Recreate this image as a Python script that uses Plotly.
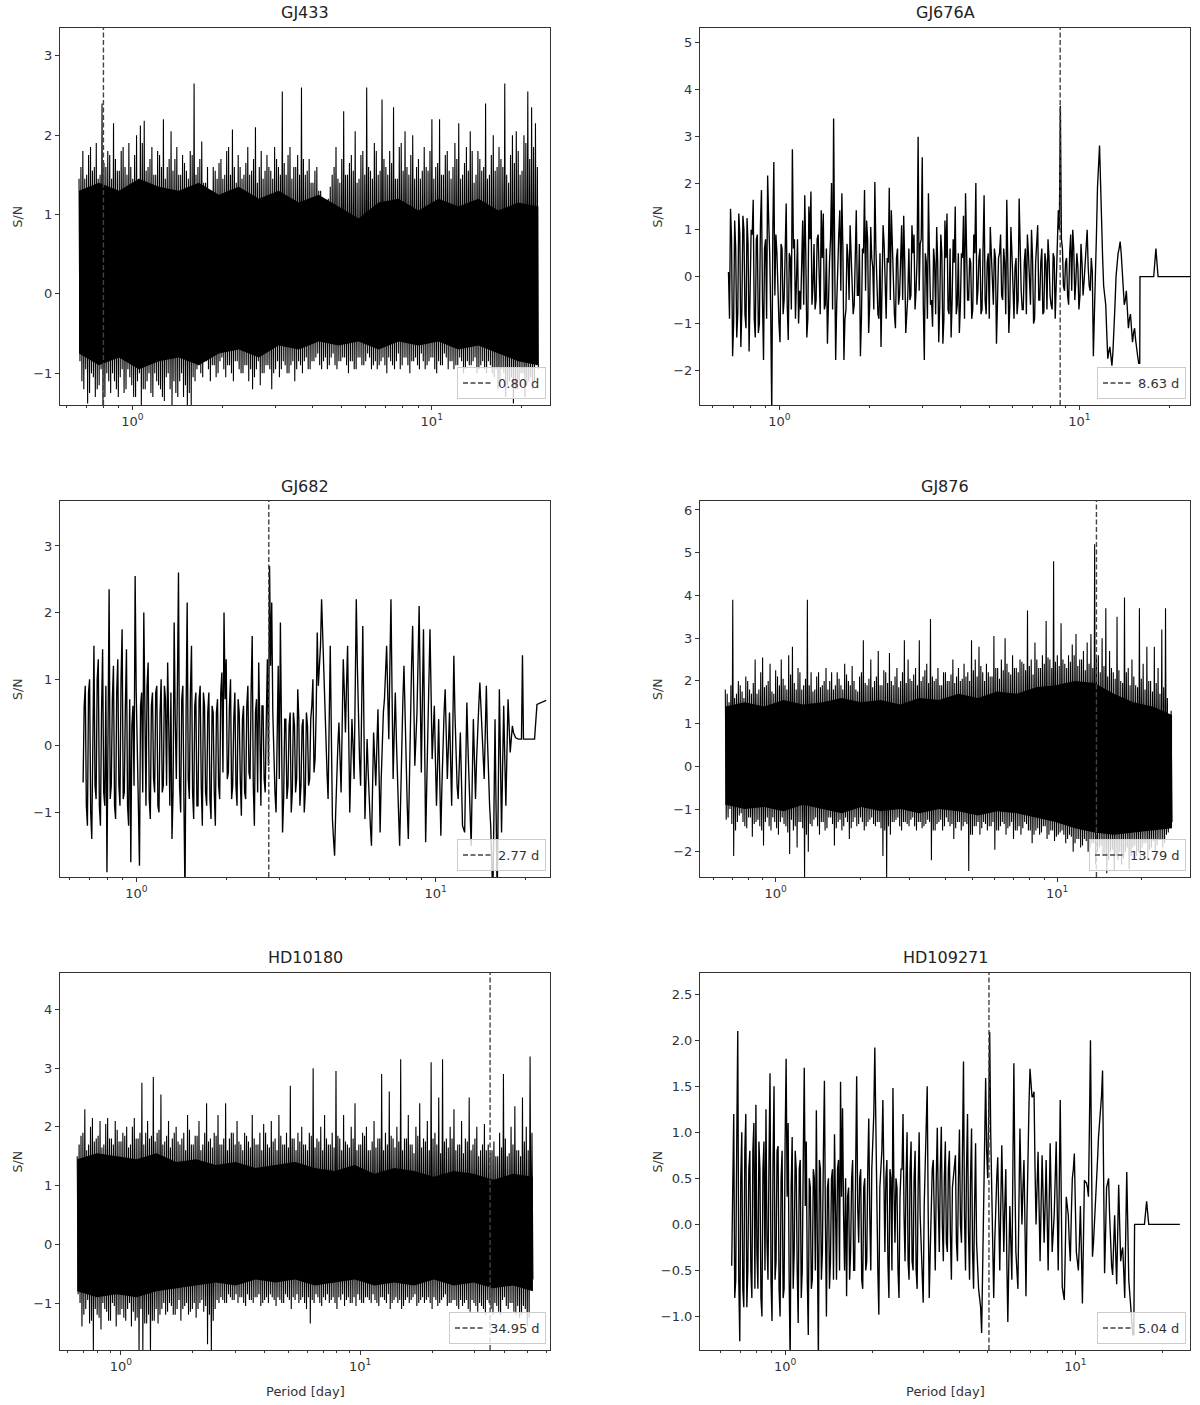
import numpy as np
import plotly.graph_objects as go

W, H = 1200, 1405
FONT = "DejaVu Sans"
INK = "#333333"

# ======================= DATA =======================
# ---- GJ433 : dense periodogram -> tall peaks / deep troughs, fringe peaks / troughs, solid band
gj433_span = [0.663, 22.7]
gj433_best = 0.80
gj433_peaks = [
    1.45, 1.8, 1.5, 1.85, 1.6, 1.45, 2.4, 1.6, 1.75, 2.15,
    1.55, 1.8, 1.6, 1.9, 1.45, 2.0, 2.12, 2.18, 1.6, 1.85,
    1.5, 1.75, 2.2, 1.6, 2.05, 1.7, 1.5, 1.75, 1.55, 1.8,
    2.65, 1.6, 1.92, 1.4, 1.15, 1.6, 1.45, 1.7, 1.5, 1.85,
    2.07, 1.4, 1.6, 1.5, 1.85, 1.55, 2.1, 1.6, 1.45, 1.75,
    1.55, 1.85, 1.6, 2.55, 1.5, 1.85, 1.6, 1.75, 2.6, 1.5,
    1.7, 1.4, 1.6, 1.3, 0.95, 1.2, 1.5, 1.85, 1.4, 2.3,
    1.5, 1.75, 2.05, 1.45, 1.8, 2.6, 1.55, 1.9, 1.5, 2.45,
    1.6, 1.8, 2.35, 1.45, 1.9, 2.05, 1.5, 2.0, 1.6, 1.45,
    1.85, 1.55, 2.2, 1.6, 2.2, 1.5, 1.8, 1.45, 1.9, 2.15,
    1.5, 1.85, 2.05, 1.4, 1.8, 1.55, 2.4, 1.5, 2.0, 1.6,
    1.7, 2.65, 1.4, 2.0, 2.05, 1.5, 2.0, 2.55, 2.35, 2.15]
gj433_troughs = [
    -0.85, -1.2, -1.38, -1.0, -1.3, -1.15, -1.45, -1.0, -1.25, -1.1,
    -1.3, -0.95, -1.2, -1.05, -1.3, -1.1, -1.4, -1.2, -1.0, -1.3,
    -1.1, -1.2, -1.35, -1.0, -1.4, -1.25, -1.1, -1.3, -1.45, -1.4,
    -1.1, -0.9, -1.05, -0.85, -1.1, -0.9, -1.0, -0.8, -1.05, -0.9,
    -1.1, -0.85, -1.0, -0.9, -1.1, -1.2, -0.95, -1.15, -1.0, -0.9,
    -1.2, -0.95, -1.05, -0.85, -1.0, -0.9, -1.1, -0.85, -1.0, -0.8,
    -0.95, -0.85, -0.75, -0.95, -0.8, -0.9, -0.75, -0.95, -0.85, -0.8,
    -1.0, -0.85, -0.95, -0.8, -0.9, -0.75, -0.95, -0.85, -0.9, -0.8,
    -1.0, -0.85, -0.95, -0.75, -0.9, -0.8, -1.0, -0.85, -0.9, -0.75,
    -0.95, -0.85, -0.8, -1.0, -0.9, -0.75, -0.95, -0.85, -0.9, -0.8,
    -1.0, -0.85, -0.9, -0.8, -0.95, -0.85, -1.0, -0.9, -1.05, -1.2,
    -0.95, -1.3, -1.1, -1.38, -1.2, -1.0, -1.3, -1.1, -1.2, -0.9]
gj433_fringe_hi = [
    1.6, 1.45, 1.75, 1.55, 1.9, 1.5, 1.65, 1.8, 1.45, 1.7,
    1.55, 1.85, 1.5, 1.6, 1.75, 1.45, 1.9, 1.55, 1.7, 1.5,
    1.8, 1.6, 1.45, 1.7, 1.55, 1.85, 1.5, 1.65, 1.45, 1.75,
    1.5, 1.7, 1.4, 1.6, 1.3, 1.55, 1.65, 1.45, 1.8, 1.5,
    1.6, 1.75, 1.45, 1.65, 1.5, 1.7, 1.4, 1.8, 1.55, 1.6,
    1.45, 1.7, 1.5, 1.65, 1.75, 1.45, 1.6, 1.5, 1.7, 1.55,
    1.4, 1.55, 1.3, 1.2, 1.1, 1.35, 1.6, 1.45, 1.7, 1.5,
    1.65, 1.55, 1.4, 1.75, 1.5, 1.6, 1.45, 1.8, 1.55, 1.7,
    1.5, 1.65, 1.45, 1.85, 1.55, 1.6, 1.75, 1.45, 1.7, 1.55,
    1.6, 1.8, 1.45, 1.65, 1.5, 1.75, 1.55, 1.6, 1.7, 1.45,
    1.65, 1.55, 1.8, 1.5, 1.7, 1.6, 1.45, 1.75, 1.55, 1.85,
    1.6, 1.5, 1.75, 1.65, 1.8, 1.55, 1.9, 1.7, 1.85, 1.6]
gj433_fringe_lo = [
    -1.1, -0.95, -1.25, -1.05, -1.2, -0.95, -1.3, -1.1, -1.0, -1.2,
    -1.05, -1.25, -0.95, -1.15, -1.3, -1.0, -1.2, -1.1, -1.25, -1.0,
    -1.15, -1.3, -1.05, -1.2, -1.1, -1.3, -1.0, -1.15, -1.25, -1.05,
    -0.95, -1.0, -0.85, -0.95, -0.9, -1.05, -0.85, -0.95, -0.9, -1.0,
    -0.85, -0.95, -1.0, -0.9, -0.95, -1.05, -0.85, -1.0, -0.9, -0.95,
    -1.0, -0.85, -0.95, -0.9, -1.0, -0.85, -0.95, -0.9, -0.85, -0.95,
    -0.85, -0.8, -0.9, -0.85, -0.95, -0.8, -0.9, -0.85, -0.8, -0.9,
    -0.85, -0.95, -0.8, -0.9, -0.85, -0.8, -0.9, -0.95, -0.85, -0.9,
    -0.8, -0.9, -0.85, -0.95, -0.8, -0.9, -0.85, -0.8, -0.95, -0.85,
    -0.9, -0.8, -0.95, -0.85, -0.9, -0.8, -0.85, -0.95, -0.9, -0.85,
    -0.95, -0.9, -0.85, -1.0, -0.9, -0.95, -0.85, -1.0, -0.95, -1.1,
    -1.0, -1.15, -1.05, -1.2, -1.1, -1.0, -1.15, -1.05, -1.1, -0.95]
gj433_core_hi = [1.3, 1.4, 1.3, 1.45, 1.35, 1.3, 1.4, 1.25, 1.35, 1.2, 1.3, 1.15,
                 1.25, 1.1, 0.95, 1.15, 1.2, 1.05, 1.2, 1.1, 1.2, 1.05, 1.15, 1.1]
gj433_core_lo = [-0.75, -0.9, -0.8, -0.95, -0.85, -0.8, -0.9, -0.75, -0.7, -0.8, -0.65, -0.7,
                 -0.6, -0.65, -0.6, -0.7, -0.6, -0.65, -0.6, -0.7, -0.65, -0.75, -0.85, -0.9]

# ---- GJ676A : resolved periodogram (main samples + in-between samples)
gj676a_span = [0.676, 15.9]
gj676a_best = 8.63
gj676a_sn = [
    0.1, 1.45, -1.7, 1.2, -1.3, 1.35, -1.5, 1.3, -0.8, 1.25,
    -1.6, 1.0, 1.64, -1.3, 0.9, -1.0, 1.85, -1.78, 0.8, 2.16,
    0.5, -2.9, 2.45, 0.9, -0.6, -1.4, 0.6, -0.5, 1.56, -1.35,
    0.4, 2.72, 0.8, 0.2, -1.0, -0.7, 1.2, 1.74, -1.3, 1.5,
    1.82, -0.2, -0.7, 0.8, 0.2, 1.42, 1.35, -0.6, -1.43, 0.3,
    2.0, 3.38, -1.78, 0.5, 1.42, 1.78, -1.78, -0.7, 0.4, 1.1,
    -0.3, -0.6, 1.42, -0.4, -1.7, 0.6, 1.85, 1.2, -1.2, 1.06,
    0.2, 2.02, -0.2, -0.9, -1.5, 1.1, -0.3, 0.4, 1.9, 1.42,
    -0.5, -1.1, 0.6, -0.4, 1.1, 1.3, -1.2, -0.4, -0.5, 1.1,
    0.9, -0.3, 2.99, 0.7, 2.55, -1.78, 0.3, 1.78, -0.6, -1.07,
    0.3, 1.06, -1.4, 0.9, -1.43, 1.2, 1.35, -0.8, -1.3, 0.8,
    1.5, -0.6, -1.2, 0.5, 1.3, 1.78, -0.5, 0.4, -0.9, 0.9,
    2.0, -0.3, 0.6, -0.7, 1.74, -0.8, 0.5, 1.06, -0.3, 0.6,
    -1.43, 0.4, 0.9, -0.5, 0.3, 1.64, -1.2, 1.06, -0.4, 0.2,
    -0.8, 1.67, -0.3, -0.7, 0.6, 0.9, -0.3, 1.0, -1.0, 0.3,
    1.1, -0.5, 0.6, -0.75, 0.3, 0.8, -0.4, -0.7, 0.4, -0.2,
    1.42, 3.65, 0.6, -0.3, 0.4, -0.6, 0.9, 1.0, -0.5, 0.5,
    -0.7, 0.7, -0.4, 0.3, 1.0, -0.2, 0.4, -1.7, 0.5, 1.9,
    2.8, 1.0, -0.2, -0.6, -1.75, -1.5, -1.9, -1.2, 0.0, 0.5,
    0.75, 0.2, -0.6, -0.3, -1.1, -0.8, -1.4, -1.1, -1.6, -1.85]
gj676a_sn_between = [
    -0.9, 0.8, -1.0, 0.6, -0.8, 0.9, -0.7, 1.0, -1.1, 0.7,
    -0.6, 0.9, -0.9, 0.8, -1.2, 1.1, -0.5, 0.6, -0.9, 1.2,
    -0.8, 0.9, -0.4, 0.5, -1.0, 0.7, -0.8, 0.9, -0.6, 0.5,
    -0.7, 0.6, -0.9, 0.8, -0.3, 0.7, -0.6, 0.5, -0.9, 0.8,
    -0.6, 0.7, -0.5, 0.9, -0.8, 0.4, -0.7, 0.6, -0.4, 0.8,
    -0.7, 0.5, -0.6, 0.9, -0.3, 0.6, -0.9, 0.7, -0.5, 0.4,
    -0.8, 0.6, -0.4, 0.7, -0.9, 0.5, -0.3, 0.8, -0.6, 0.4,
    -0.7, 0.6, -0.8, 0.5, -0.4, 0.7, -0.9, 0.3, -0.5, 0.6,
    -0.8, 0.4, -0.6, 0.7, -0.5, 0.3, -0.8, 0.6, -0.4, 0.5,
    -0.7, 0.4, -0.3, 0.8, -0.6, 0.5, -0.9, 0.4, -0.5, 0.6,
    -0.8, 0.3, -0.6, 0.5, -0.9, 0.4, -0.7, 0.6, -0.5, 0.3,
    -0.8, 0.5, -0.6, 0.4, -0.9, 0.6, -0.5, 0.3, -0.7, 0.5,
    -0.6, 0.4, -0.8, 0.6, -0.5, 0.3, -0.9, 0.5, -0.6, 0.4,
    -0.7, 0.5, -0.4, 0.6, -0.8, 0.3, -0.6, 0.5, -0.9, 0.4,
    -0.5, 0.6, -0.7, 0.3, -0.8, 0.5, -0.6, 0.4, -0.9, 0.6,
    -0.5, 0.3, -0.8, 0.5, -0.7, 0.4, -0.6, 0.5, -0.9, 0.3,
    1.0, 0.8, -0.2, 0.3, -0.4, 0.5, -0.3, 0.6, -0.1, 0.2,
    -0.4, 0.3, -0.1, 0.5, 0.2, -0.3, 0.1, -0.8, 0.9, 2.3,
    2.0, 0.4, -0.4, -1.2, -1.6, -1.7, -1.6, -0.6, 0.3, 0.6,
    0.5, -0.2, -0.5, -0.7, -0.9, -1.1, -1.2, -1.35, -1.7, -1.85]
gj676a_tail_period = [15.93, 17.7, 18.0, 18.3, 23.4]
gj676a_tail_sn = [0.0, 0.0, 0.6, 0.0, 0.0]

# ---- GJ682 : resolved periodogram
gj682_span = [0.664, 18.5]
gj682_best = 2.77
gj682_sn = [
    -0.55, 0.9, -1.2, 1.0, -1.4, 1.5, -0.8, 1.3, -1.2, 1.45,
    -0.9, -1.9, 2.35, -0.6, 1.2, -1.1, 1.3, -0.9, 1.75, -0.7,
    1.45, -1.2, -1.75, 0.6, 2.55, -0.5, -1.8, 0.8, 2.0, -0.9,
    1.25, -1.1, 0.8, -0.7, 0.9, -1.0, 1.0, -0.6, 0.7, 1.25,
    -0.9, -1.4, 1.85, -0.5, 2.6, -1.0, 0.9, -2.3, 2.15, -0.8,
    1.5, -1.1, 0.8, -0.9, 0.9, -1.2, 0.6, -0.9, 0.8, -1.1,
    0.5, -1.2, 0.7, -0.8, 1.1, 2.0, 1.3, -0.4, 1.0, -0.6,
    0.8, -0.9, 0.5, -1.05, 0.6, -0.8, 0.9, -0.5, 1.65, -1.2,
    0.7, 1.25, -0.9, 0.6, -0.7, 1.3, 2.7, 2.15, -0.3, -1.0,
    1.2, 1.85, -1.3, 0.4, -0.8, 0.3, -1.0, 0.5, -0.7, 0.85,
    -0.9, 0.3, -1.0, 0.5, -0.6, 0.4, 1.0, -0.2, 1.7, 1.2,
    2.2, 1.0, 0.1, -0.8, 1.5, -1.1, -1.65, -0.4, 0.35, -0.7,
    1.3, 0.2, 1.5, -1.0, 0.4, -0.5, 2.2, 0.3, -0.6, 1.8,
    -1.1, 0.1, -0.9, -1.5, 0.2, -0.6, 0.55, -1.3, 0.2, 0.7,
    1.5, 0.1, 2.2, -0.5, 0.8, -0.6, -1.5, 0.2, 1.2, -0.3,
    -1.4, 0.6, 1.8, -0.3, 0.5, 2.1, -0.4, 1.75, -1.45, 0.3,
    1.75, -0.2, 0.6, -0.9, 0.4, -1.35, 0.1, 0.85, -0.5, 0.5,
    -0.9, 1.35, -0.3, -0.8, 0.2, -1.2, -1.3, 0.65, -0.6, -1.5,
    0.4, -0.8, 0.3, 0.95, 0.2, -0.5, 0.9, -0.6, -1.2, -2.3,
    0.4, -2.3, 0.85, -1.3, 0.6, -0.9, 0.7, -0.1, 0.3, 0.15]
gj682_sn_between = [
    0.6, -0.9, 0.8, -1.0, 0.7, -0.6, 1.0, -0.9, 0.5, -0.7,
    0.9, 0.2, -0.8, 0.7, -0.9, 0.8, -0.6, 1.0, -0.8, 0.6,
    -0.9, 0.7, 0.3, -0.6, 0.8, -0.9, 0.6, -0.7, 0.4, 0.9,
    -0.8, 0.6, -0.5, 0.8, -0.9, 0.5, -0.7, 0.9, -0.6, 0.3,
    0.8, -0.7, 0.4, 0.9, -0.6, 0.7, -0.8, 0.5, -0.5, 0.8,
    -0.7, 0.6, -0.9, 0.7, -0.6, 0.8, -0.7, 0.5, -0.8, 0.6,
    -0.7, 0.5, -0.6, 0.8, -0.4, 0.7, -0.5, 0.6, -0.8, 0.4,
    -0.6, 0.7, -0.5, 0.4, -0.7, 0.6, -0.4, 0.8, -0.6, 0.5,
    -0.7, 0.3, 0.6, -0.5, 0.4, -0.3, 1.2, 0.5, -0.7, 0.6,
    -0.5, 0.3, -0.8, 0.4, -0.6, 0.5, -0.7, 0.3, -0.5, 0.4,
    -0.6, 0.4, -0.7, 0.3, -0.5, 0.6, -0.4, 0.5, 0.9, 1.5,
    1.6, 0.5, -0.4, 0.3, 0.2, -1.4, -1.0, 0.0, -0.2, 0.3,
    0.8, 0.9, 0.2, -0.3, 0.0, 0.8, 1.2, -0.2, 0.6, 0.4,
    -0.5, -0.4, -1.2, -0.6, -0.2, 0.0, -0.4, -0.5, 0.5, 1.1,
    0.8, 1.2, 0.8, 0.2, 0.1, -1.0, -0.6, 0.7, 0.4, -0.9,
    -0.4, 1.2, 0.7, 0.1, 1.3, 0.8, 0.7, 0.2, -0.6, 1.0,
    0.8, 0.2, -0.2, -0.3, -0.5, -0.6, 0.5, 0.2, 0.0, -0.2,
    0.2, 0.5, -0.6, -0.3, -0.5, -1.25, -0.3, 0.0, -1.0, -0.5,
    -0.2, -0.2, 0.6, 0.6, -0.2, 0.2, 0.1, -0.9, -1.8, -1.0,
    -1.0, -0.7, -0.2, -0.3, -0.2, -0.1, 0.3, 0.1, 0.2, 0.12]
gj682_tail_period = [18.9, 19.35, 19.5, 19.65, 21.4, 21.8, 23.4]
gj682_tail_sn = [0.1, 0.1, 1.36, 0.1, 0.1, 0.62, 0.68]

# ---- GJ876 : dense periodogram
gj876_span = [0.662, 25.6]
gj876_best = 13.79
gj876_peaks = [
    1.8, 1.5, 3.9, 1.7, 1.9, 1.6, 2.0, 1.7, 2.5, 1.8,
    2.55, 1.9, 2.4, 1.7, 2.1, 2.5, 1.9, 2.6, 2.8, 1.8,
    2.2, 1.9, 3.9, 2.2, 1.8, 2.2, 1.9, 2.3, 2.0, 1.8,
    2.2, 1.9, 2.4, 2.0, 2.35, 1.8, 2.1, 2.95, 1.9, 2.5,
    2.0, 2.7, 1.9, 2.2, 2.65, 1.9, 2.3, 2.0, 2.95, 2.5,
    2.0, 2.3, 2.95, 2.1, 2.4, 3.45, 2.0, 2.3, 1.9, 2.2,
    2.0, 2.5, 2.1, 2.0, 2.4, 2.2, 2.95, 2.5, 2.8, 2.2,
    2.4, 2.1, 3.05, 2.3, 2.5, 3.0, 2.2, 2.6, 2.3, 2.5,
    2.4, 3.65, 2.5, 2.9, 2.3, 2.6, 3.4, 2.5, 4.8, 2.6,
    3.35, 2.4, 2.6, 2.85, 3.1, 2.5, 2.7, 2.9, 3.1, 5.2,
    2.6, 3.0, 3.7, 2.7, 2.2, 3.5, 2.0, 3.95, 2.3, 2.5,
    1.9, 3.7, 2.4, 2.8, 2.0, 2.8, 2.3, 3.2, 3.7, 1.2]
gj876_troughs = [
    -1.25, -1.0, -2.1, -1.3, -1.1, -1.4, -1.2, -1.65, -1.3, -1.4,
    -1.85, -1.2, -1.5, -1.3, -1.6, -1.2, -1.4, -2.05, -1.5, -1.9,
    -1.3, -2.6, -2.0, -1.4, -1.2, -1.6, -1.3, -1.45, -1.2, -1.85,
    -1.3, -1.5, -1.2, -1.7, -1.3, -1.4, -1.2, -1.5, -1.3, -1.2,
    -1.4, -1.3, -2.1, -2.6, -1.6, -1.3, -1.2, -1.5, -1.3, -1.4,
    -1.2, -1.5, -1.3, -1.4, -1.25, -2.2, -1.5, -1.3, -1.5, -1.2,
    -1.4, -1.7, -1.3, -1.5, -1.3, -2.45, -1.6, -1.4, -1.6, -1.3,
    -1.5, -1.4, -1.95, -1.5, -1.3, -1.6, -1.4, -1.7, -1.5, -1.6,
    -1.3, -1.5, -1.8, -1.5, -1.6, -1.4, -1.7, -1.5, -1.75, -1.6,
    -1.5, -1.8, -1.6, -2.0, -1.7, -1.9, -1.7, -2.0, -1.8, -2.3,
    -1.9, -2.1, -2.5, -2.0, -2.45, -2.2, -2.3, -2.0, -2.4, -1.9,
    -2.1, -2.2, -1.8, -2.2, -1.9, -2.0, -1.7, -1.9, -1.6, -1.3]
gj876_fringe_hi = [
    1.7, 1.9, 1.6, 2.0, 1.75, 2.1, 1.8, 1.95, 1.7, 2.2,
    1.85, 2.0, 1.75, 2.25, 1.9, 2.05, 1.8, 2.15, 1.95, 2.3,
    1.8, 2.05, 1.9, 1.75, 2.1, 1.85, 2.0, 1.8, 2.2, 1.9,
    2.05, 1.8, 2.15, 1.9, 2.0, 1.75, 2.2, 1.95, 2.05, 1.85,
    2.1, 1.9, 2.25, 1.95, 2.0, 2.1, 1.85, 2.2, 1.95, 2.05,
    2.15, 1.9, 2.0, 2.25, 1.95, 2.1, 2.05, 1.9, 2.2, 2.0,
    2.15, 1.95, 2.3, 2.05, 2.1, 2.0, 2.25, 2.1, 2.35, 2.0,
    2.2, 2.1, 2.3, 2.05, 2.25, 2.4, 2.15, 2.3, 2.2, 2.45,
    2.25, 2.35, 2.15, 2.5, 2.3, 2.4, 2.55, 2.3, 2.45, 2.35,
    2.5, 2.3, 2.45, 2.6, 2.35, 2.5, 2.25, 2.4, 2.3, 2.55,
    2.2, 2.35, 2.1, 2.3, 2.05, 2.25, 1.95, 2.2, 1.9, 2.1,
    1.85, 2.05, 1.8, 2.0, 1.75, 1.95, 1.7, 1.85, 1.6, 1.3]
gj876_fringe_lo = [
    -1.2, -1.35, -1.5, -1.15, -1.3, -1.45, -1.2, -1.35, -1.25, -1.5,
    -1.3, -1.4, -1.2, -1.45, -1.3, -1.35, -1.55, -1.25, -1.4, -1.3,
    -1.45, -1.6, -1.35, -1.25, -1.4, -1.3, -1.5, -1.2, -1.35, -1.45,
    -1.25, -1.4, -1.3, -1.45, -1.2, -1.35, -1.3, -1.4, -1.25, -1.35,
    -1.3, -1.45, -1.5, -1.4, -1.3, -1.25, -1.4, -1.3, -1.35, -1.25,
    -1.4, -1.3, -1.45, -1.35, -1.3, -1.5, -1.35, -1.25, -1.4, -1.3,
    -1.35, -1.45, -1.3, -1.4, -1.35, -1.6, -1.4, -1.3, -1.45, -1.35,
    -1.4, -1.3, -1.5, -1.4, -1.35, -1.45, -1.3, -1.5, -1.4, -1.45,
    -1.35, -1.5, -1.6, -1.45, -1.55, -1.4, -1.6, -1.5, -1.65, -1.55,
    -1.6, -1.7, -1.65, -1.8, -1.7, -1.85, -1.75, -1.9, -1.8, -2.0,
    -1.85, -2.05, -2.2, -1.95, -2.1, -2.0, -2.15, -1.9, -2.1, -1.85,
    -2.0, -1.9, -1.8, -1.95, -1.75, -1.85, -1.7, -1.8, -1.55, -1.3]
gj876_core_hi = [1.4, 1.5, 1.4, 1.55, 1.45, 1.5, 1.6, 1.5, 1.55, 1.45, 1.6, 1.55,
                 1.7, 1.6, 1.75, 1.7, 1.85, 1.9, 2.0, 1.95, 1.7, 1.5, 1.4, 1.2]
gj876_core_lo = [-0.9, -1.0, -0.95, -1.05, -0.9, -1.0, -1.1, -0.95, -1.05, -1.0, -1.1, -1.0,
                 -1.05, -1.15, -1.05, -1.1, -1.2, -1.3, -1.45, -1.55, -1.6, -1.55, -1.5, -1.45]

# ---- HD10180 : dense periodogram
hd10180_span = [0.656, 52.8]
hd10180_best = 34.95
hd10180_peaks = [
    1.5, 1.85, 2.3, 1.7, 2.15, 1.8, 2.1, 1.7, 2.15, 1.8,
    2.1, 1.75, 1.9, 2.0, 1.7, 2.15, 1.8, 2.75, 1.9, 1.8,
    2.85, 1.9, 2.55, 1.75, 2.1, 1.8, 2.0, 1.7, 1.9, 2.2,
    1.7, 1.85, 2.1, 1.7, 2.4, 1.8, 1.9, 2.2, 1.7, 2.4,
    1.8, 1.9, 2.1, 1.7, 1.9, 1.75, 2.2, 1.7, 1.9, 2.05,
    1.7, 2.1, 1.8, 2.2, 1.7, 1.9, 2.7, 1.8, 1.9, 2.0,
    1.7, 1.9, 3.0, 1.8, 2.0, 2.2, 1.7, 1.9, 2.95, 1.8,
    2.2, 1.7, 2.0, 2.4, 1.7, 1.9, 2.0, 1.6, 2.1, 1.8,
    2.9, 1.9, 2.6, 1.8, 2.0, 3.15, 1.8, 2.2, 1.7, 2.0,
    2.4, 1.8, 2.1, 3.1, 1.9, 2.5, 3.15, 1.8, 2.0, 2.3,
    1.7, 2.1, 1.8, 2.5, 1.7, 2.0, 1.6, 2.05, 1.7, 1.6,
    1.5, 1.9, 2.9, 1.5, 2.0, 2.35, 1.6, 2.5, 2.0, 3.2]
hd10180_troughs = [
    -0.85, -1.4, -1.1, -1.35, -1.8, -1.2, -1.45, -1.1, -1.3, -1.0,
    -1.4, -1.2, -1.25, -1.1, -1.4, -1.3, -1.85, -1.9, -1.35, -1.9,
    -1.3, -1.35, -1.1, -1.2, -1.0, -1.2, -1.1, -1.3, -1.05, -1.2,
    -1.1, -1.25, -1.0, -1.15, -1.7, -1.9, -1.1, -1.0, -0.95, -1.0,
    -0.9, -0.95, -1.0, -0.9, -1.05, -0.95, -1.0, -0.9, -1.05, -0.95,
    -1.0, -0.9, -1.05, -0.95, -1.0, -0.9, -1.1, -0.95, -1.0, -0.9,
    -1.1, -1.35, -1.0, -0.9, -1.05, -0.95, -1.0, -0.9, -1.1, -0.95,
    -1.05, -0.9, -1.0, -1.05, -0.95, -1.0, -0.9, -1.0, -0.95, -1.05,
    -0.9, -1.0, -1.1, -0.95, -1.0, -1.1, -0.95, -1.0, -0.9, -1.05,
    -0.95, -1.0, -0.9, -1.1, -0.95, -1.0, -0.9, -1.05, -1.0, -0.95,
    -1.1, -1.05, -0.95, -1.15, -1.0, -1.15, -1.05, -1.2, -1.0, -1.2,
    -1.05, -1.2, -0.9, -1.1, -1.0, -1.2, -1.25, -1.05, -1.4, -0.5]
hd10180_fringe_hi = [
    1.7, 1.9, 1.6, 2.0, 1.75, 1.85, 1.65, 2.05, 1.8, 1.7,
    1.95, 1.75, 1.85, 1.65, 2.0, 1.8, 1.9, 1.7, 2.1, 1.85,
    1.75, 1.95, 1.7, 1.85, 1.65, 1.9, 1.75, 1.8, 1.6, 1.95,
    1.7, 1.85, 1.6, 1.9, 1.75, 1.65, 1.85, 1.7, 1.8, 1.6,
    1.9, 1.7, 1.75, 1.6, 1.85, 1.65, 1.8, 1.7, 1.6, 1.9,
    1.65, 1.75, 1.6, 1.85, 1.7, 1.65, 1.8, 1.6, 1.75, 1.7,
    1.6, 1.85, 1.65, 1.75, 1.6, 1.8, 1.7, 1.65, 1.85, 1.6,
    1.75, 1.65, 1.8, 1.6, 1.7, 1.85, 1.6, 1.75, 1.65, 1.8,
    1.6, 1.7, 1.85, 1.65, 1.75, 1.6, 1.8, 1.7, 1.55, 1.85,
    1.65, 1.75, 1.6, 1.8, 1.7, 1.55, 1.75, 1.65, 1.8, 1.6,
    1.7, 1.55, 1.75, 1.6, 1.8, 1.5, 1.7, 1.6, 1.55, 1.75,
    1.5, 1.65, 1.8, 1.55, 1.7, 1.6, 1.5, 1.75, 1.6, 1.9]
hd10180_fringe_lo = [
    -1.0, -1.2, -0.95, -1.3, -1.1, -1.25, -1.0, -1.15, -1.3, -1.05,
    -1.2, -1.1, -1.3, -1.0, -1.15, -1.25, -1.1, -1.35, -1.2, -1.3,
    -1.1, -1.2, -1.0, -1.15, -1.05, -1.2, -0.95, -1.1, -1.0, -1.15,
    -1.0, -1.1, -0.95, -1.05, -1.2, -1.3, -0.95, -0.9, -1.0, -0.85,
    -0.95, -0.85, -0.9, -1.0, -0.85, -0.95, -0.9, -0.85, -1.0, -0.9,
    -0.85, -0.95, -0.9, -1.0, -0.85, -0.95, -0.9, -0.85, -0.95, -1.0,
    -0.9, -0.95, -0.85, -1.0, -0.9, -0.85, -0.95, -1.0, -0.9, -0.85,
    -0.95, -1.0, -0.9, -0.85, -1.0, -0.9, -0.95, -0.85, -1.0, -0.9,
    -0.95, -0.85, -1.0, -0.9, -0.95, -1.05, -0.9, -0.95, -0.85, -1.0,
    -0.9, -0.95, -1.0, -0.9, -1.05, -0.95, -0.85, -1.0, -0.95, -1.05,
    -0.95, -1.0, -1.1, -0.95, -1.05, -1.0, -1.1, -0.95, -1.1, -1.0,
    -1.15, -0.95, -1.05, -1.0, -1.15, -1.05, -1.2, -1.1, -1.25, -0.6]
hd10180_core_hi = [1.45, 1.55, 1.5, 1.45, 1.55, 1.4, 1.45, 1.35, 1.4, 1.3, 1.35, 1.4,
                   1.3, 1.25, 1.35, 1.2, 1.3, 1.25, 1.15, 1.25, 1.2, 1.1, 1.2, 1.15]
hd10180_core_lo = [-0.8, -0.9, -0.85, -0.9, -0.8, -0.75, -0.7, -0.65, -0.7, -0.6, -0.65, -0.6,
                   -0.7, -0.65, -0.6, -0.7, -0.65, -0.7, -0.6, -0.7, -0.65, -0.75, -0.7, -0.8]

# ---- HD109271 : resolved periodogram
hd109271_span = [0.655, 15.9]
hd109271_best = 5.04
hd109271_sn = [
    -0.45, 1.2, -0.6, 2.1, -1.27, 1.0, -0.9, 1.2, -0.5, 0.8,
    -0.8, 1.1, 1.3, -0.7, 0.6, -1.0, 0.9, 1.25, -0.6, 1.64,
    -1.05, 1.5, -0.4, 0.85, -1.0, 0.8, -0.7, 1.8, 1.1, -1.5,
    0.95, -0.3, 0.6, -1.07, 0.7, -0.5, 1.7, 0.9, -1.2, 0.4,
    -0.6, 0.5, 1.24, -1.5, 0.6, -0.3, 1.56, -1.0, 0.5, -0.4,
    0.6, 0.98, -0.6, 0.7, 1.55, 1.26, -0.5, -0.78, 0.4, -0.3,
    0.7, -0.5, 1.61, -0.2, 0.6, -0.7, 0.5, -0.4, 1.15, -0.5,
    1.0, 1.92, 0.3, -0.98, 0.6, 1.35, -0.3, 0.7, -0.8, 0.5,
    1.48, -0.2, 0.4, -0.8, 0.6, 1.2, -0.4, 1.0, -0.6, 0.9,
    -0.5, 0.8, -0.7, 1.0, -0.3, -0.85, 0.6, 1.5, -0.8, 0.4,
    0.7, -0.5, 1.05, -0.3, 1.06, -0.4, 0.9, -0.3, 0.8, -0.6,
    0.5, 0.75, -0.4, 1.03, -0.2, 1.77, -0.5, 1.2, -0.6, 1.04,
    -0.7, 0.88, -0.5, -0.8, -1.18, 0.4, 1.59, 0.5, 2.09, 0.2,
    -0.8, 0.3, 0.73, -0.5, 0.86, -0.3, 0.6, -1.06, 0.2, -0.6,
    1.75, -0.3, -0.7, 1.04, 0.0, 0.7, -0.78, 0.9, 1.69, 1.38,
    1.44, 0.0, 0.79, -0.4, 0.75, -0.2, 0.7, -0.5, 0.88, -0.3,
    0.1, 0.9, -0.5, 1.35, -0.68, -0.82, 0.3, 0.1, -0.4, 0.5,
    0.77, -0.3, -0.5, 0.2, -0.86, 0.48, 0.45, 0.3, 2.0, -0.35,
    0.0, 0.4, 0.95, 1.2, 1.67, -0.53, 0.4, 0.5, -0.3, -0.55,
    0.1, -0.65, 0.43, -0.4, -0.25, -0.8, 0.57, -0.6, -0.93, -1.2]
hd109271_sn_between = [
    0.7, -0.8, 0.9, -0.6, 0.5, -0.7, 0.8, -0.9, 0.6, -0.5,
    0.8, -0.7, -0.3, 0.9, -0.8, 0.6, -0.5, -0.2, 0.7, -0.6,
    0.7, -0.6, 0.8, -0.7, 0.5, -0.8, 0.9, 0.3, -0.6, 0.4,
    -0.7, 0.8, -0.5, 0.6, -0.8, 0.7, 0.2, -0.6, 0.5, -0.7,
    0.6, -0.5, -0.2, 0.7, -0.6, 0.8, 0.0, 0.4, -0.7, 0.5,
    -0.6, 0.2, 0.6, -0.5, 0.3, 0.1, 0.5, 0.3, -0.6, 0.5,
    -0.5, 0.6, 0.2, 0.5, -0.6, 0.4, -0.5, 0.6, 0.1, 0.6,
    1.2, 0.8, -0.5, 0.4, 0.8, 0.2, 0.5, -0.4, 0.6, -0.5,
    0.4, 0.5, -0.5, 0.3, 0.6, 0.1, 0.5, -0.4, 0.6, -0.4,
    0.5, -0.5, 0.4, 0.1, -0.6, 0.2, 0.9, 0.1, -0.3, 0.6,
    0.0, 0.5, 0.2, 0.6, 0.0, 0.5, -0.2, 0.6, -0.1, 0.4,
    0.6, -0.2, 0.5, 0.0, 0.8, 0.1, 0.6, -0.1, 0.5, -0.3,
    0.2, -0.2, -0.7, -0.9, -0.4, 0.9, 0.8, 1.2, 1.0, -0.3,
    -0.2, 0.5, 0.0, 0.2, 0.3, 0.2, -0.4, -0.4, -0.2, 0.6,
    0.5, -0.5, 0.2, 0.5, 0.4, 0.0, 0.1, 1.3, 1.5, 1.4,
    0.6, 0.4, 0.2, 0.2, 0.3, 0.2, 0.1, 0.2, 0.3, -0.1,
    0.5, 0.2, 0.4, 0.3, -0.75, -0.3, 0.2, -0.2, 0.1, 0.6,
    0.2, -0.4, -0.2, -0.3, -0.2, 0.46, 0.4, 1.1, 0.8, -0.2,
    0.2, 0.7, 1.1, 1.4, 0.6, -0.1, 0.45, 0.1, -0.45, -0.2,
    -0.3, -0.1, 0.0, -0.3, -0.5, -0.1, 0.0, -0.75, -1.05, -1.2]
hd109271_tail_period = [16.0, 17.3, 17.6, 17.9, 22.9]
hd109271_tail_sn = [0.0, 0.0, 0.25, 0.0, 0.0]

x_tick_vals = [1, 10]
x_tick_text = ["10<sup>0</sup>", "10<sup>1</sup>"]
x_minor_vals = [0.5, 0.6, 0.7, 0.8, 0.9, 2, 3, 4, 5, 6, 7, 8, 9, 20, 30, 40, 50, 60]

# ======================= PANEL LAYOUT =======================
panels = [
    dict(title="GJ433", kind="dense", span=gj433_span,
         series=(gj433_peaks, gj433_troughs, gj433_fringe_hi, gj433_fringe_lo),
         core=(gj433_core_hi, gj433_core_lo), best=gj433_best,
         box=(60, 550, 28, 405), xr=(-0.242, 1.395), yr=(-1.40, 3.35),
         yt=[-1, 0, 1, 2, 3], yfmt="d", title_y=13),
    dict(title="GJ676A", kind="sparse", span=gj676a_span,
         series=(gj676a_sn, gj676a_sn_between),
         tail=(gj676a_tail_period, gj676a_tail_sn), best=gj676a_best,
         box=(700, 1190, 28, 405), xr=(-0.265, 1.369), yr=(-2.74, 5.31),
         yt=[-2, -1, 0, 1, 2, 3, 4, 5], yfmt="d", title_y=13),
    dict(title="GJ682", kind="sparse", span=gj682_span,
         series=(gj682_sn, gj682_sn_between),
         tail=(gj682_tail_period, gj682_tail_sn), best=gj682_best,
         box=(60, 550, 501, 877), xr=(-0.255, 1.382), yr=(-1.97, 3.675),
         yt=[-1, 0, 1, 2, 3], yfmt="d", title_y=486),
    dict(title="GJ876", kind="dense", span=gj876_span,
         series=(gj876_peaks, gj876_troughs, gj876_fringe_hi, gj876_fringe_lo),
         core=(gj876_core_hi, gj876_core_lo), best=gj876_best,
         box=(700, 1190, 501, 877), xr=(-0.269, 1.472), yr=(-2.59, 6.21),
         yt=[-2, -1, 0, 1, 2, 3, 4, 5, 6], yfmt="d", title_y=486),
    dict(title="HD10180", kind="dense", span=hd10180_span,
         series=(hd10180_peaks, hd10180_troughs, hd10180_fringe_hi, hd10180_fringe_lo),
         core=(hd10180_core_hi, hd10180_core_lo), best=hd10180_best,
         box=(60, 550, 973, 1350), xr=(-0.255, 1.794), yr=(-1.80, 4.62),
         yt=[-1, 0, 1, 2, 3, 4], yfmt="d", title_y=957),
    dict(title="HD109271", kind="sparse", span=hd109271_span,
         series=(hd109271_sn, hd109271_sn_between),
         tail=(hd109271_tail_period, hd109271_tail_sn), best=hd109271_best,
         box=(700, 1190, 973, 1350), xr=(-0.293, 1.395), yr=(-1.364, 2.73),
         yt=[-1.0, -0.5, 0.0, 0.5, 1.0, 1.5, 2.0, 2.5], yfmt=".1f", title_y=957),
]

fig = go.Figure()
layout_axes = {}
annotations = []
shapes = []

for k, p in enumerate(panels, start=1):
    sfx = "" if k == 1 else str(k)
    xa, ya = "x" + sfx, "y" + sfx
    x0, x1, y0, y1 = p["box"]
    lo_p, hi_p = p["span"]

    yv = [v for group in zip(*p["series"]) for v in group]
    xv = list(np.geomspace(lo_p, hi_p, len(yv)))

    if p["kind"] == "dense":
        chi, clo = p["core"]
        cp = list(np.geomspace(lo_p, hi_p, len(chi)))
        fig.add_trace(go.Scatter(
            x=cp + cp[::-1], y=list(chi) + list(clo)[::-1],
            fill="toself", fillcolor="black", mode="lines", line=dict(width=0, color="black"),
            hoverinfo="skip", showlegend=False, xaxis=xa, yaxis=ya))
        lw = 1.1
    else:
        tp, tv = p["tail"]
        xv = xv + list(tp)
        yv = yv + list(tv)
        lw = 1.35

    fig.add_trace(go.Scatter(x=xv, y=yv, mode="lines", line=dict(color="black", width=lw),
                             hoverinfo="skip", showlegend=False, xaxis=xa, yaxis=ya))

    lg = "legend" + sfx
    fig.add_trace(go.Scatter(x=[None], y=[None], mode="lines",
                             line=dict(color="#444444", width=1.5, dash="5px,2.5px"),
                             name=f"{p['best']:.2f} d", legend=lg, showlegend=True,
                             xaxis=xa, yaxis=ya))
    shapes.append(dict(type="line", xref=xa, yref=ya + " domain", x0=p["best"], x1=p["best"],
                       y0=0, y1=1, line=dict(color="#444444", width=1.4, dash="5px,2.5px")))

    layout_axes["xaxis" + sfx] = dict(
        domain=[x0 / W, x1 / W], anchor=ya, type="log", range=list(p["xr"]),
        tickmode="array", tickvals=x_tick_vals, ticktext=x_tick_text,
        ticks="outside", ticklen=4, tickwidth=1, tickcolor=INK,
        minor=dict(tickmode="array", tickvals=x_minor_vals, ticks="outside", ticklen=2,
                   tickwidth=0.8, tickcolor=INK, showgrid=False),
        showline=True, linecolor=INK, linewidth=1, mirror=True,
        showgrid=False, zeroline=False,
        tickfont=dict(family=FONT, size=13, color=INK))
    layout_axes["yaxis" + sfx] = dict(
        domain=[1 - y1 / H, 1 - y0 / H], anchor=xa, range=list(p["yr"]),
        tickmode="array", tickvals=p["yt"], tickformat=p["yfmt"],
        ticks="outside", ticklen=4, tickwidth=1, tickcolor=INK,
        showline=True, linecolor=INK, linewidth=1, mirror=True,
        showgrid=False, zeroline=False,
        tickfont=dict(family=FONT, size=13, color=INK))

    layout_axes[lg] = dict(
        x=(x1 - 4) / W, y=1 - (y1 - 6) / H, xanchor="right", yanchor="bottom",
        bgcolor="rgba(255,255,255,0.8)", bordercolor="#cccccc", borderwidth=1,
        font=dict(family=FONT, size=13, color=INK), itemwidth=30,
        tracegroupgap=0)

    annotations.append(dict(text=p["title"], x=(x0 + x1) / 2 / W, y=1 - p["title_y"] / H,
                            xref="paper", yref="paper", xanchor="center", yanchor="middle",
                            showarrow=False, font=dict(family=FONT, size=16, color="#222222")))
    annotations.append(dict(text="S/N", x=(x0 - 43) / W, y=1 - (y0 + y1) / 2 / H,
                            xref="paper", yref="paper", xanchor="center", yanchor="middle",
                            textangle=-90, showarrow=False,
                            font=dict(family=FONT, size=12.5, color=INK)))
    if k >= 5:
        annotations.append(dict(text="Period [day]", x=(x0 + x1) / 2 / W, y=1 - 1391 / H,
                                xref="paper", yref="paper", xanchor="center", yanchor="middle",
                                showarrow=False, font=dict(family=FONT, size=13, color=INK)))

fig.update_layout(
    width=W, height=H, margin=dict(l=0, r=0, t=0, b=0),
    paper_bgcolor="white", plot_bgcolor="white",
    font=dict(family=FONT, color=INK), hovermode=False,
    annotations=annotations, shapes=shapes, **layout_axes)

fig.write_html("out.html", config={"displayModeBar": False},
               post_script="document.body.style.margin='0px';document.body.style.padding='0px';")
